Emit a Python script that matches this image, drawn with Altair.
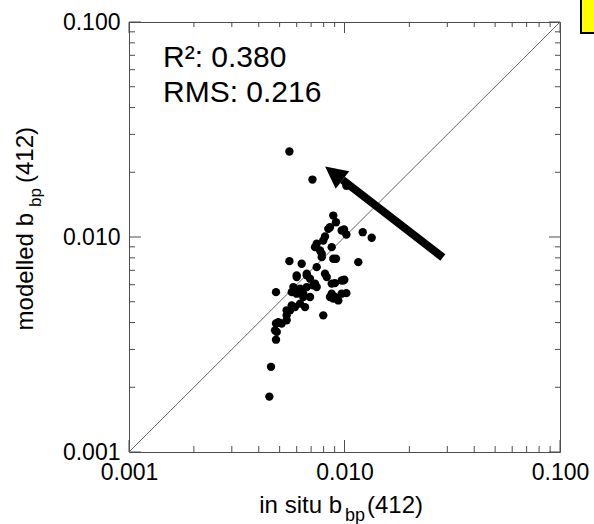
import altair as alt
import pandas as pd

# ---- data (in situ vs modelled bbp(412)) ----
x_insitu = [0.00555, 0.00710, 0.0102, 0.00887, 0.00913, 0.00841, 0.00995, 0.0102, 0.01215, 0.01337,
            0.00812, 0.00797, 0.00743, 0.00730, 0.00770, 0.00872, 0.00887, 0.00913, 0.00784, 0.00555,
            0.00633, 0.00743, 0.01159, 0.00600, 0.00668, 0.00692, 0.00730, 0.00827, 0.00903, 0.00998,
            0.00579, 0.00622, 0.00668, 0.00743, 0.00481, 0.00600, 0.00644, 0.00692, 0.00872, 0.00887,
            0.00936, 0.0102, 0.00622, 0.00656, 0.00569, 0.00559, 0.00539, 0.00797, 0.00539, 0.00511,
            0.00481, 0.00476, 0.00485, 0.00481, 0.00456, 0.00448, 0.00856, 0.00987, 0.00569, 0.00716,
            0.00589, 0.00493, 0.00856, 0.00784, 0.0097, 0.00600, 0.00668, 0.00644, 0.00539, 0.00812,
            0.00872, 0.0097, 0.00903, 0.0097]
y_model = [0.0250, 0.0185, 0.0173, 0.01258, 0.01171, 0.01091, 0.01083, 0.01027, 0.01053, 0.00992,
           0.01005, 0.00963, 0.00930, 0.00897, 0.00866, 0.00897, 0.00792, 0.00792, 0.00806, 0.00772,
           0.00751, 0.00724, 0.00764, 0.00663, 0.00675, 0.00640, 0.00607, 0.00651, 0.00610, 0.00633,
           0.00585, 0.00575, 0.00585, 0.00585, 0.00554, 0.00545, 0.00526, 0.00526, 0.00545, 0.00517,
           0.00507, 0.00548, 0.00490, 0.00472, 0.00481, 0.00456, 0.00432, 0.00432, 0.00410, 0.00396,
           0.00396, 0.00368, 0.00362, 0.00333, 0.00249, 0.00181, 0.00526, 0.00628, 0.00554, 0.00596,
           0.00472, 0.00402, 0.0111, 0.00836, 0.01072, 0.00651, 0.00663, 0.00545, 0.00456, 0.00675,
           0.00607, 0.00628, 0.00526, 0.00545]

label_ticks = [0.001, 0.01, 0.1]
minor_ticks = [0.002, 0.003, 0.004, 0.005, 0.006, 0.007, 0.008, 0.009,
               0.02, 0.03, 0.04, 0.05, 0.06, 0.07, 0.08, 0.09]
major_ticks = [0.001, 0.01, 0.1]
one_to_one = [0.001, 0.1]

arrow_tail_x, arrow_tail_y = [0.0286], [0.00803]
arrow_neck_x, arrow_neck_y = [0.00979], [0.01843]
arrow_head_x, arrow_head_y = [0.00892], [0.0198]

r2_text = "R²: 0.380"
rms_text = "RMS: 0.216"

W, H = 431, 430
FONT = "Liberation Sans"
FRAME = "#4d4d4d"

xs = alt.Scale(type="log", domain=[0.001, 0.1], nice=False)
ys = alt.Scale(type="log", domain=[0.001, 0.1], nice=False)

common_axis = dict(values=label_ticks, format=".3f", title=None, grid=False, ticks=False,
                   tickSize=0, domain=False, labelFlush=False, labelOverlap=False,
                   labelFontSize=23, labelFont=FONT, labelColor="black")
XAXIS = alt.Axis(labelPadding=9, labelBaseline="top", **common_axis)
YAXIS = alt.Axis(labelPadding=9, labelBaseline="middle", **common_axis)


def X(field):
    return alt.X(field, scale=xs, axis=XAXIS)


def Y(field):
    return alt.Y(field, scale=ys, axis=YAXIS)


# 1:1 line
diag = alt.Chart(pd.DataFrame({"x": one_to_one, "y": one_to_one})).mark_line(
    color="#666666", strokeWidth=1).encode(x=X("x:Q"), y=Y("y:Q"))

pts_df = pd.DataFrame({"x": x_insitu, "y": y_model})
points = alt.Chart(pts_df).mark_circle(size=70, color="black", opacity=1).encode(
    x=X("x:Q"), y=Y("y:Q"))


def tick_layers(vals, length):
    df = pd.DataFrame({"v": vals})
    base = alt.Chart(df).mark_rule(color=FRAME, strokeWidth=1)
    return [
        base.encode(x=X("v:Q"), y=alt.value(H), y2=alt.value(H - length)),
        base.encode(x=X("v:Q"), y=alt.value(0), y2=alt.value(length - 1)),
        base.encode(y=Y("v:Q"), x=alt.value(0), x2=alt.value(length)),
        base.encode(y=Y("v:Q"), x=alt.value(W), x2=alt.value(W - length + 1)),
    ]


ticks = tick_layers(minor_ticks, 6) + tick_layers(major_ticks, 12)

shaft = alt.Chart(pd.DataFrame({"x": arrow_tail_x, "y": arrow_tail_y,
                                "x2": arrow_neck_x, "y2": arrow_neck_y})).mark_rule(
    color="black", strokeWidth=8, strokeCap="butt").encode(
    x=X("x:Q"), y=Y("y:Q"), x2="x2:Q", y2="y2:Q")

head = alt.Chart(pd.DataFrame({"x": arrow_head_x, "y": arrow_head_y})).mark_point(
    shape="M0,-1L1,1L-1,1Z", filled=True, size=484, angle=308, color="black",
    opacity=1, strokeWidth=0).encode(x=X("x:Q"), y=Y("y:Q"))

one = pd.DataFrame({"k": [0]})


def txt(text, x, y, size, align="left", angle=0, baseline="alphabetic"):
    return alt.Chart(one).mark_text(text=text, font=FONT, fontSize=size, color="black",
                                    align=align, baseline=baseline, angle=angle).encode(
        x=alt.value(x), y=alt.value(y))


texts = [
    txt(r2_text, 34, 45, 30),
    txt(rms_text, 34, 80, 30),
    # x-axis title with subscript
    txt("in situ b", 213, 491, 24, align="right"),
    txt("bp", 216, 499, 18),
    txt("(412)", 238, 491, 24),
    # y-axis title with subscript (rotated)
    txt("modelled b", -96, 191, 24, align="right", angle=270),
    txt("bp", -88, 185, 17, align="left", angle=270),
    txt("(412)", -96, 161, 24, align="left", angle=270),
]

yellow = alt.Chart(one).mark_rect(fill="#ffff00", stroke="black", strokeWidth=2).encode(
    x=alt.value(452), x2=alt.value(480), y=alt.value(-30), y2=alt.value(11))

chart = alt.layer(diag, *ticks, points, shaft, head, *texts, yellow).properties(
    width=W, height=H,
    background="white",
    autosize=alt.AutoSizeParams(type="none"),
    padding={"left": 129, "top": 22, "right": 34, "bottom": 72},
).configure_view(stroke=FRAME, strokeWidth=1)

chart.save("out.html", embed_options={"renderer": "svg", "actions": False})
